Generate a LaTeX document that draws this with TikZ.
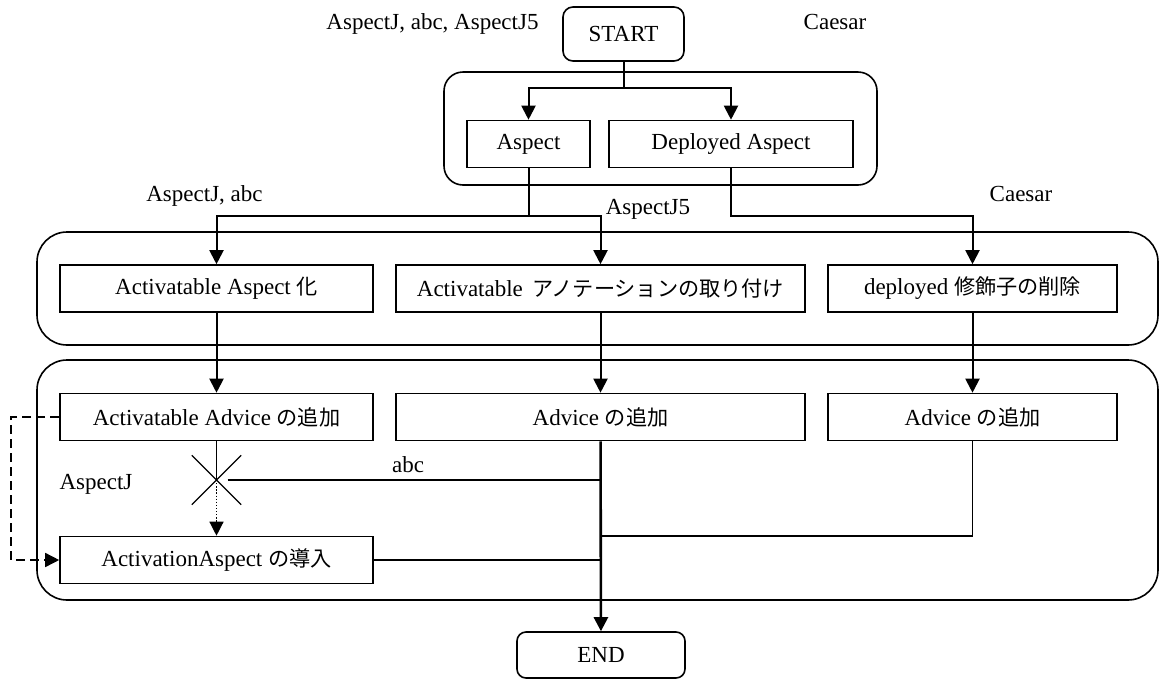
\documentclass[tikz,border=0pt]{standalone}
\usepackage{fontspec}
\setmainfont{Liberation Serif}
\newfontfamily\jpfont{Noto Sans CJK JP}[Scale=0.92]
\newcommand{\ja}[1]{{\jpfont #1}}
\usetikzlibrary{arrows.meta,shapes.misc}
\tikzset{
  box/.style={draw,line width=1.6pt,inner sep=0pt,minimum height=47pt},
  term/.style={box,rounded corners=9pt},
  group/.style={draw,line width=1.6pt,rounded corners=30pt},
  arr/.style={line width=2pt,-{Triangle[width=14pt,length=14pt]}},
  conn/.style={line width=1.3pt},
  lbl/.style={inner sep=0pt,anchor=base},
}
\begin{document}
\begin{tikzpicture}[x=1pt,y=-1pt,font=\fontsize{23pt}{27pt}\selectfont]
\useasboundingbox (0,0) rectangle (1160,681);
\draw[group,rounded corners=19pt] (444,72) rectangle (877,185);
\draw[group] (37,232) rectangle (1158,345);
\draw[group] (37,360) rectangle (1158,600);

\node[term,minimum width=121pt,minimum height=54pt,rounded corners=10pt] (start) at (623.5,34) {START};
\node[term,minimum width=168pt,minimum height=46pt] (end) at (601,655) {END};
\node[box,minimum width=123pt] (aspect) at (528.5,144) {Aspect};
\node[box,minimum width=244pt] (deployed) at (731,144) {Deployed Aspect};
\node[box,minimum width=313pt] (a2) at (216.5,288.5) {Activatable Aspect \ja{化}};
\node[box,minimum width=409pt] (b2) at (600.5,288.5) {Activatable\ \,\ja{アノテーションの取り付け}};
\node[box,minimum width=289pt] (c2) at (972.5,288.5) {deployed \ja{修飾子の削除}};
\node[box,minimum width=313pt] (a3) at (216.5,417) {Activatable Advice \ja{の追加}};
\node[box,minimum width=409pt] (b3) at (600.5,417) {Advice \ja{の追加}};
\node[box,minimum width=289pt] (c3) at (972.5,417) {Advice \ja{の追加}};
\node[box,minimum width=313pt] (a4) at (216.5,560) {ActivationAspect \ja{の導入}};
\node[draw,cross out,conn,inner sep=0pt,minimum size=48pt] (xmark) at (216.5,480) {};

\node[lbl] (toplabel) at (432.5,29) {AspectJ, abc, AspectJ5};
\node[lbl] (topcaesar) at (835,29) {Caesar};
\node[lbl] (leftlabel) at (204.5,201) {AspectJ, abc};
\node[lbl] (midlabel) at (648,214) {AspectJ5};
\node[lbl] (rightcaesar) at (1021,201) {Caesar};
\node[lbl] (ajlabel) at (96,489) {AspectJ};
\node[lbl] (abclabel) at (408,472) {abc};

\coordinate (s1) at (623.5,88);
\draw[line width=2pt] (start) -- (s1);
\draw[arr] (s1) -| (aspect);
\draw[arr] (s1) -| (deployed);
\coordinate (s2) at (528.5,216);
\draw[line width=2pt] (aspect) -- (s2);
\draw[arr] (s2) -| (a2);
\draw[arr] (s2) -| (b2);
\coordinate (s3) at (731,216);
\draw[arr] (deployed) -- (s3) -| (c2);
\draw[arr] (a2) -- (a3);
\draw[arr] (b2) -- (b3);
\draw[arr] (c2) -- (c3);
\draw[conn] (a3) -- (xmark.center);
\draw[arr,line width=1.3pt,dash pattern=on 1.3pt off 1.8pt] (xmark.center) -- (a4);
\draw[conn] ([xshift=11pt]xmark.center) -- (xmark.center -| b3.south);
\draw[arr,line width=2.6pt] (b3) -- (end);
\coordinate (jc) at (600.5,536);
\draw[conn] (c3) |- (jc);
\draw[conn] (a4) -- (a4 -| b3.south);
\draw[arr,line width=1.6pt,dash pattern=on 9pt off 5pt] (a3.west) -- ++(-48,0) |- (a4);
\end{tikzpicture}
\end{document}
